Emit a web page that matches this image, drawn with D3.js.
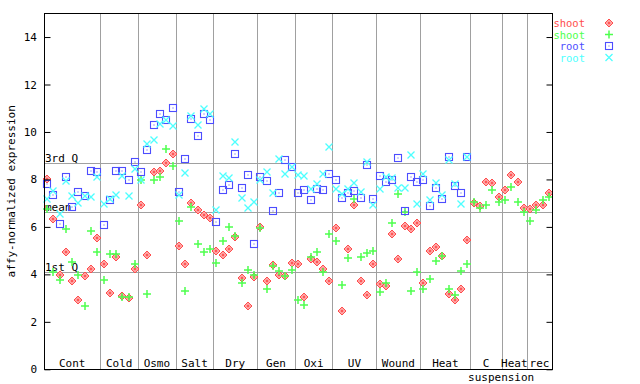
<!DOCTYPE html>
<html>
<head>
<meta charset="utf-8">
<script src="https://cdn.jsdelivr.net/npm/d3@7"></script>
<style>
  body { margin: 0; background: #fff; }
  text { font-family: "DejaVu Sans Mono", monospace; font-size: 11px; }
</style>
</head>
<body>
<script>
// groups of samples along x, and how many samples each holds
const groups = ["Cont", "Cold", "Osmo", "Salt", "Dry", "Gen", "Oxi", "UV", "Wound", "Heat", "C", "Heat", "rec"];
const groupSizes = [9, 6, 6, 6, 7, 6, 6, 7, 7, 8, 5, 4, 4];
const groupSub = ["", "", "", "", "", "", "", "", "", "", "suspension", "", ""];

// reference lines
const refNames = ["3rd Q", "mean", "1st Q"];
const refValues = [8.69, 6.61, 4.08];

const yTicks = [0, 2, 4, 6, 8, 10, 12, 14];

// values per sample
const shootRed = [
  8.03, 6.35, 3.96, 4.96, 3.74, 2.94, 3.92, 4.24, 5.55,
  4.42, 3.23, 4.75, 3.08, 2.99, 4.24,
  6.94, 4.83, 8.33, 8.37, 8.71, 9.09,
  5.21, 4.45, 7.02, 6.73, 6.52, 6.39,
  5.00, 4.83, 5.08, 5.59, 3.86, 2.68, 3.90,
  6.01, 3.74, 4.41, 3.99, 3.95, 4.49,
  4.45, 3.06, 4.66, 4.54, 4.24, 3.74,
  5.97, 2.47, 5.08, 6.94, 3.74, 3.15, 4.45,
  3.61, 3.49, 5.72, 4.66, 6.05, 5.93, 6.18,
  3.65, 5.00, 5.17, 4.79, 3.19, 2.94, 3.40, 5.46,
  7.02, 6.90, 7.91, 7.86, 7.27,
  7.57, 8.20, 7.91, 6.81,
  6.77, 6.94, 6.94, 7.44
];
const shootGreen = [
  6.77, 4.10, 3.75, 5.93, 4.52, 3.96, 2.65, 5.84, 4.94,
  3.75, 4.84, 4.84, 3.03, 3.06, 4.45,
  7.96, 3.19, 7.99, 8.12, 9.30, 8.58,
  6.26, 3.31, 6.85, 5.29, 4.96, 5.08,
  4.49, 5.42, 6.01, 5.63, 3.65, 4.20, 3.99,
  5.97, 3.37, 4.37, 4.16, 3.95, 4.20,
  2.94, 2.73, 4.75, 4.96, 4.12, 5.72,
  5.42, 3.57, 4.70, 7.19, 4.75, 4.92, 5.00,
  3.27, 3.65, 6.18, 7.40, 6.64, 3.32, 4.12,
  3.40, 3.82, 4.58, 4.79, 3.40, 3.11, 4.16, 4.45,
  7.06, 6.81, 6.94, 7.57, 7.06,
  7.15, 7.69, 7.06, 6.64,
  6.26, 6.73, 7.15, 7.27
];
const rootBlue = [
  7.79, 7.34, 6.13, 8.10, 6.85, 7.45, 7.30, 8.37, 8.30,
  6.09, 7.12, 8.37, 8.37, 7.99, 8.75,
  8.33, 9.25, 10.31, 10.77, 10.49, 11.02,
  7.49, 8.84, 10.53, 9.85, 10.74, 10.49,
  6.22, 7.57, 7.78, 9.09, 7.65, 8.20, 5.29,
  8.12, 7.95, 6.69, 7.44, 8.83, 8.54,
  7.44, 7.57, 7.15, 7.61, 7.57, 8.24,
  7.99, 7.23, 7.44, 7.53, 7.23, 8.62, 7.19,
  8.16, 7.91, 7.99, 8.92, 6.69, 8.12, 7.91,
  7.99, 6.90, 7.65, 7.19, 8.96, 7.74, 7.44, 8.96,
  null, null, null, null, null,
  null, null, null, null,
  null, null, null, null
];
const rootCyan = [
  7.16, 7.50, 6.56, 7.95, 7.29, 6.99, 7.29, 7.25, 8.12,
  6.98, 7.19, 7.36, 8.16, 7.32, 8.45,
  7.99, 9.51, 9.68, 10.35, 10.50, 10.26,
  7.36, 8.29, 10.69, 10.31, 10.98, 10.77,
  6.73, 8.16, 8.08, 9.59, 7.23, 6.81, 7.06,
  7.99, 8.33, 7.44, 8.88, 8.24, 8.54,
  8.20, 8.16, 7.61, 7.82, 8.24, 9.38,
  7.61, 7.40, 7.61, 7.86, 7.49, 8.75, 6.94,
  7.61, 8.12, 8.08, 7.65, 7.65, 9.04, 6.98,
  8.24, 7.15, 7.86, 7.36, 8.83, 7.82, 6.98, 8.96,
  null, null, null, null, null,
  null, null, null, null,
  null, null, null, null
];

const series = [
  { name: "shoot", color: "#ff4d4d", shape: "diamond", values: shootRed },
  { name: "shoot", color: "#4dff4d", shape: "plus", values: shootGreen },
  { name: "root", color: "#4d4dff", shape: "square", values: rootBlue },
  { name: "root", color: "#4dffff", shape: "cross", values: rootCyan }
];

const W = 640, H = 384;
const plot = { left: 44, right: 552, top: 13.3, bottom: 369.3 };
const nSamples = d3.sum(groupSizes);

const x = d3.scaleLinear().domain([-0.5, nSamples - 0.5]).range([plot.left, plot.right]);
const y = d3.scaleLinear().domain([0, 15]).range([plot.bottom, plot.top]);

const svg = d3.select("body").append("svg")
  .attr("width", W).attr("height", H);

// group boundaries (sample index where each group ends)
const bounds = Array.from(d3.cumsum(groupSizes));
const starts = [0].concat(bounds.slice(0, -1));

svg.append("g").selectAll("line")
  .data(bounds.slice(0, -1))
  .join("line")
  .attr("x1", d => Math.round(x(d - 0.5)) + 0.5).attr("x2", d => Math.round(x(d - 0.5)) + 0.5)
  .attr("y1", plot.top).attr("y2", plot.bottom)
  .attr("stroke", "#a0a0a0").attr("stroke-width", 1);

// reference lines
const refG = svg.append("g");
refG.selectAll("line")
  .data(refValues)
  .join("line")
  .attr("x1", plot.left).attr("x2", plot.right)
  .attr("y1", d => Math.round(y(d)) + 0.5).attr("y2", d => Math.round(y(d)) + 0.5)
  .attr("stroke", "#a0a0a0").attr("stroke-width", 1);
refG.selectAll("text")
  .data(refValues)
  .join("text")
  .attr("x", plot.left + 1)
  .attr("y", d => y(d) - 1)
  .text((d, i) => refNames[i]);

// markers
function drawMarker(sel, s) {
  if (s.shape === "diamond") {
    sel.append("path").attr("d", "M0,-4L4,0L0,4L-4,0Z")
      .attr("fill", "#ffa6a6").attr("stroke", s.color).attr("stroke-width", 1);
    sel.append("path").attr("d", "M0,-1.5L1.5,0L0,1.5L-1.5,0Z").attr("fill", s.color);
  } else if (s.shape === "plus") {
    sel.append("path").attr("d", "M-4,0H4M0,-4V4")
      .attr("stroke", s.color).attr("stroke-width", 1.5).attr("fill", "none");
  } else if (s.shape === "square") {
    sel.append("rect").attr("x", -3.5).attr("y", -3.5).attr("width", 7).attr("height", 7)
      .attr("stroke", s.color).attr("stroke-width", 1.1).attr("fill", "none");
    sel.append("rect").attr("x", -0.5).attr("y", -0.5).attr("width", 1).attr("height", 1)
      .attr("fill", s.color);
  } else {
    sel.append("path").attr("d", "M-3.5,-3.5L3.5,3.5M-3.5,3.5L3.5,-3.5")
      .attr("stroke", s.color).attr("stroke-width", 1.3).attr("fill", "none");
  }
}

series.forEach(s => {
  const pts = s.values.map((v, i) => ({ i: i, v: v })).filter(d => d.v != null);
  svg.append("g").selectAll("g")
    .data(pts)
    .join("g")
    .attr("transform", d => `translate(${Math.round(x(d.i))},${Math.round(y(d.v))})`)
    .each(function () { drawMarker(d3.select(this), s); });
});

// frame
svg.append("rect")
  .attr("x", plot.left + 0.5).attr("y", Math.round(plot.top) + 0.5)
  .attr("width", plot.right - plot.left).attr("height", Math.round(plot.bottom) - Math.round(plot.top))
  .attr("fill", "none").attr("stroke", "#000").attr("stroke-width", 1);

// y axis, ticks inward on both sides
const yAxisL = d3.axisRight(y).tickValues(yTicks).tickSize(6).tickFormat("");
svg.append("g").attr("transform", `translate(${plot.left + 0.5},0)`).call(yAxisL)
  .call(g => g.select(".domain").remove());
const yAxisR = d3.axisLeft(y).tickValues(yTicks).tickSize(6).tickFormat("");
svg.append("g").attr("transform", `translate(${plot.right + 0.5},0)`).call(yAxisR)
  .call(g => g.select(".domain").remove());
svg.append("g").selectAll("text")
  .data(yTicks)
  .join("text")
  .attr("x", 37).attr("y", d => y(d) + 4)
  .attr("text-anchor", "end")
  .text(d => d);

// y label
svg.append("text")
  .attr("transform", `translate(15,${(plot.top + plot.bottom) / 2}) rotate(-90)`)
  .attr("text-anchor", "middle")
  .text("affy-normalized expression");

// group labels
svg.append("g").selectAll("text")
  .data(groups)
  .join("text")
  .attr("x", (d, i) => (x(starts[i] - 0.5) + x(bounds[i] - 0.5)) / 2)
  .attr("y", 367)
  .attr("text-anchor", "middle")
  .text(d => d);
svg.append("g").selectAll("text")
  .data(groupSub.map((t, i) => ({ t: t, i: i })).filter(d => d.t))
  .join("text")
  .attr("x", d => (x(starts[d.i] - 0.5) + x(bounds[d.i] - 0.5)) / 2 + 15)
  .attr("y", 381)
  .attr("text-anchor", "middle")
  .text(d => d.t);

// legend
const leg = svg.append("g").selectAll("g")
  .data(series)
  .join("g")
  .attr("transform", (d, i) => `translate(0,${23 + i * 11.5})`);
leg.append("text")
  .attr("x", 585).attr("y", 4)
  .attr("text-anchor", "end")
  .style("font-size", "10.5px")
  .attr("fill", d => d.color)
  .text(d => d.name);
leg.append("g")
  .attr("transform", "translate(609,0)")
  .each(function (d) { drawMarker(d3.select(this), d); });
</script>
</body>
</html>
